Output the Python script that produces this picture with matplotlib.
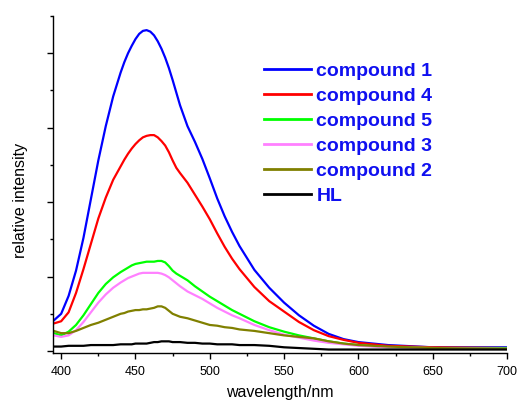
import matplotlib.pyplot as plt
import matplotlib.ticker as tick

plt.rcParams['font.family'] = ['Liberation Sans', 'DejaVu Sans']

# emission spectra, relative intensity vs. wavelength (nm)
wavelength = [395, 400, 405, 410, 415, 420, 425, 430, 435, 440,
              442.5, 445, 447.5, 450, 452.5, 455, 457.5, 460, 462.5, 465,
              467.5, 470, 472.5, 475, 477.5, 480,
              485, 490, 495, 500, 505, 510, 515, 520,
              530, 540, 550, 560, 570, 580, 590, 600, 620, 650, 700]

compound1 = [0.41, 0.50, 0.74, 1.08, 1.52, 2.04, 2.56, 3.02, 3.42, 3.74,
             3.88, 4.00, 4.10, 4.19, 4.26, 4.30, 4.31, 4.29, 4.24, 4.16,
             4.06, 3.94, 3.80, 3.64, 3.47, 3.30,
             3.02, 2.81, 2.58, 2.32, 2.05, 1.81, 1.60, 1.41,
             1.09, 0.85, 0.65, 0.48, 0.34, 0.23, 0.16, 0.12, 0.08, 0.05, 0.05]
compound4 = [0.37, 0.40, 0.52, 0.78, 1.10, 1.44, 1.78, 2.06, 2.30, 2.48,
             2.57, 2.65, 2.72, 2.78, 2.83, 2.87, 2.89, 2.90, 2.90, 2.87,
             2.82, 2.76, 2.67, 2.56, 2.46, 2.39,
             2.26, 2.10, 1.94, 1.77, 1.58, 1.40, 1.24, 1.10,
             0.86, 0.67, 0.53, 0.39, 0.28, 0.20, 0.15, 0.11, 0.07, 0.05, 0.04]
compound5 = [0.24, 0.21, 0.26, 0.35, 0.48, 0.63, 0.78, 0.90, 0.99, 1.06,
             1.09, 1.12, 1.15, 1.17, 1.18, 1.19, 1.20, 1.20, 1.20, 1.21,
             1.21, 1.19, 1.14, 1.08, 1.04, 1.01,
             0.95, 0.87, 0.80, 0.73, 0.67, 0.61, 0.55, 0.50,
             0.40, 0.32, 0.26, 0.21, 0.17, 0.13, 0.10, 0.08, 0.05, 0.04, 0.04]
compound3 = [0.21, 0.19, 0.21, 0.28, 0.39, 0.52, 0.65, 0.76, 0.85, 0.92,
             0.95, 0.98, 1.00, 1.02, 1.04, 1.05, 1.05, 1.05, 1.05, 1.05,
             1.04, 1.02, 0.99, 0.95, 0.91, 0.87,
             0.80, 0.75, 0.70, 0.64, 0.58, 0.53, 0.48, 0.44,
             0.35, 0.28, 0.22, 0.18, 0.14, 0.11, 0.09, 0.07, 0.05, 0.04, 0.03]
compound2 = [0.27, 0.24, 0.24, 0.27, 0.31, 0.35, 0.38, 0.42, 0.46, 0.50,
             0.51, 0.53, 0.54, 0.55, 0.55, 0.56, 0.56, 0.57, 0.58, 0.60,
             0.60, 0.58, 0.54, 0.50, 0.48, 0.46,
             0.44, 0.41, 0.38, 0.35, 0.34, 0.32, 0.31, 0.29,
             0.27, 0.24, 0.21, 0.19, 0.17, 0.13, 0.10, 0.08, 0.06, 0.04, 0.03]
HL = [0.06, 0.06, 0.07, 0.07, 0.07, 0.08, 0.08, 0.08, 0.08, 0.09,
      0.09, 0.09, 0.09, 0.10, 0.10, 0.10, 0.10, 0.11, 0.12, 0.12,
      0.13, 0.13, 0.13, 0.12, 0.12, 0.12,
      0.11, 0.11, 0.10, 0.10, 0.09, 0.09, 0.09, 0.08,
      0.08, 0.07, 0.05, 0.04, 0.03, 0.02, 0.02, 0.02, 0.02, 0.02, 0.02]

series = [('compound 1', compound1, '#0000ff'),
          ('compound 4', compound4, '#ff0000'),
          ('compound 5', compound5, '#00ff00'),
          ('compound 3', compound3, '#ff80ff'),
          ('compound 2', compound2, '#808000'),
          ('HL', HL, '#000000')]

fig = plt.figure(figsize=(5.17, 4.05), dpi=100)
ax = fig.add_axes([0.1025, 0.1296, 0.8782, 0.8309])

for name, vals, col in series:
    ax.plot(wavelength, vals, color=col, lw=1.6, label=name,
            solid_joinstyle='round')

ax.set_xlim(394.5, 700)
ax.set_ylim(-0.02, 4.5)

ax.spines['right'].set_color('none')
ax.spines['top'].set_color('none')
for s in ['left', 'bottom']:
    ax.spines[s].set_linewidth(1.0)

ax.xaxis.set_major_locator(tick.MultipleLocator(50))
ax.xaxis.set_minor_locator(tick.MultipleLocator(25))
ax.yaxis.set_major_locator(tick.MultipleLocator(1))
ax.yaxis.set_minor_locator(tick.MultipleLocator(0.5))
ax.tick_params(which='major', direction='out', length=4.5, width=1.0,
               labelsize=9, pad=5.5)
ax.tick_params(which='minor', direction='out', length=2.5, width=1.0)
ax.tick_params(axis='y', which='both', labelleft=False)

ax.set_xlabel('wavelength/nm', fontsize=11.5, labelpad=5)
ax.set_ylabel('relative intensity', fontsize=11.5)
ax.yaxis.set_label_coords(-0.056, 0.452)

leg = ax.legend(loc='upper left', bbox_to_anchor=(264 / 517, 1 - 62 / 405),
                bbox_transform=fig.transFigure, frameon=False, borderpad=0,
                borderaxespad=0, handlelength=2.4, handletextpad=0.3,
                labelspacing=0.38, labelcolor='#1010f0',
                prop={'weight': 'bold', 'size': 14})
for h in leg.get_lines():
    h.set_linewidth(2.0)

fig.savefig('out.png', dpi=100)
